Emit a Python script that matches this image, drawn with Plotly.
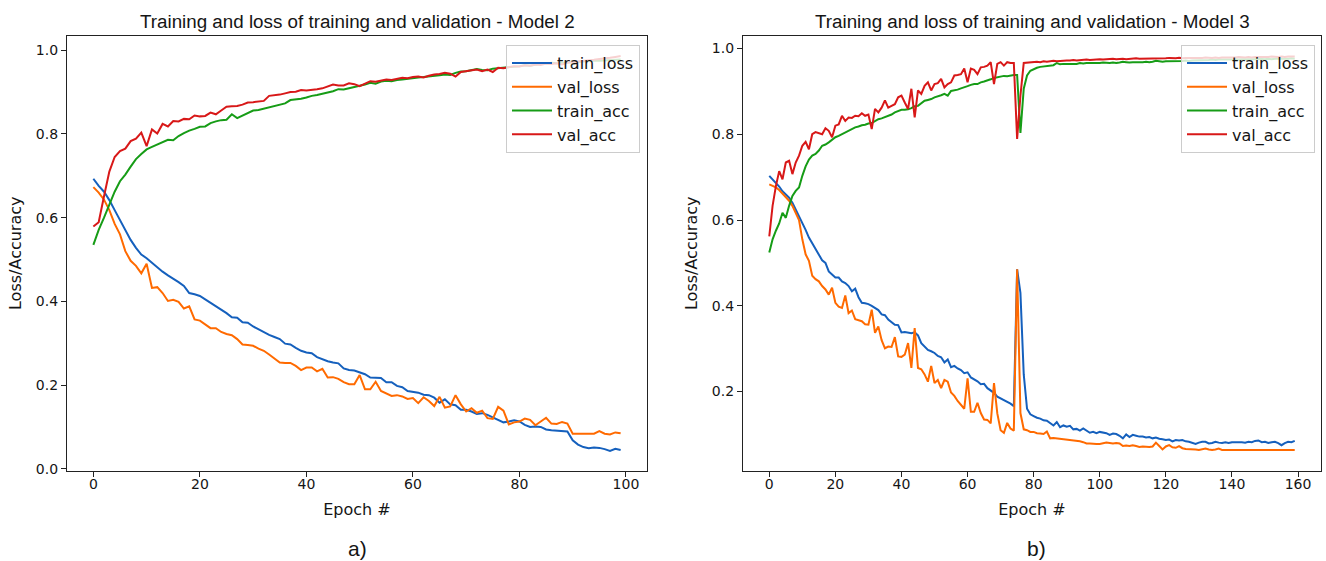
import plotly.graph_objects as go

# ---------------- data : Model 2 (100 epochs) ----------------
epochs_a = list(range(100))
train_loss_a = [0.693,0.676,0.662,0.642,0.618,0.595,0.570,0.547,0.528,0.512,
                0.503,0.492,0.480,0.471,0.462,0.455,0.446,0.437,0.420,0.417,
                0.413,0.405,0.397,0.387,0.379,0.372,0.362,0.361,0.350,0.349,
                0.340,0.333,0.328,0.320,0.315,0.310,0.299,0.297,0.289,0.282,
                0.278,0.276,0.267,0.262,0.257,0.254,0.252,0.240,0.236,0.235,
                0.230,0.226,0.218,0.218,0.217,0.207,0.207,0.198,0.195,0.186,
                0.184,0.182,0.177,0.176,0.170,0.158,0.166,0.154,0.152,0.141,
                0.141,0.137,0.131,0.133,0.129,0.123,0.116,0.111,0.113,0.116,
                0.113,0.105,0.100,0.101,0.100,0.094,0.092,0.091,0.091,0.089,
                0.068,0.058,0.052,0.049,0.051,0.050,0.047,0.043,0.048,0.045]
val_loss_a = [0.673,0.660,0.643,0.618,0.585,0.560,0.520,0.497,0.485,0.467,
              0.490,0.432,0.434,0.420,0.401,0.404,0.399,0.383,0.388,0.357,
              0.354,0.344,0.336,0.336,0.327,0.322,0.319,0.310,0.297,0.296,
              0.294,0.287,0.282,0.273,0.264,0.254,0.253,0.253,0.246,0.236,
              0.242,0.242,0.233,0.239,0.218,0.219,0.215,0.207,0.202,0.202,
              0.224,0.190,0.190,0.208,0.186,0.179,0.174,0.176,0.173,0.167,
              0.169,0.157,0.171,0.162,0.150,0.172,0.146,0.149,0.176,0.154,
              0.137,0.145,0.134,0.139,0.121,0.119,0.148,0.139,0.106,0.111,
              0.113,0.120,0.117,0.104,0.113,0.122,0.108,0.107,0.112,0.108,
              0.084,0.084,0.085,0.085,0.084,0.090,0.084,0.082,0.087,0.085]
train_acc_a = [0.535,0.571,0.600,0.630,0.662,0.687,0.703,0.722,0.740,0.752,
               0.763,0.769,0.775,0.780,0.786,0.785,0.795,0.802,0.808,0.812,
               0.817,0.818,0.826,0.830,0.833,0.834,0.847,0.838,0.844,0.851,
               0.856,0.857,0.860,0.863,0.866,0.870,0.873,0.881,0.882,0.884,
               0.887,0.891,0.893,0.896,0.898,0.902,0.907,0.906,0.909,0.912,
               0.914,0.918,0.922,0.920,0.925,0.927,0.926,0.929,0.930,0.932,
               0.933,0.935,0.936,0.937,0.939,0.940,0.942,0.941,0.946,0.949,
               0.950,0.952,0.955,0.953,0.952,0.956,0.957,0.958,0.960,0.961,
               0.962,0.964,0.963,0.965,0.967,0.968,0.970,0.969,0.970,0.971,
               0.972,0.972,0.973,0.974,0.975,0.975,0.976,0.977,0.978,0.978]
val_acc_a = [0.579,0.589,0.651,0.710,0.745,0.759,0.765,0.783,0.789,0.803,
             0.771,0.811,0.801,0.824,0.818,0.831,0.830,0.836,0.835,0.844,
             0.842,0.843,0.851,0.847,0.856,0.865,0.866,0.867,0.870,0.875,
             0.876,0.878,0.879,0.891,0.892,0.894,0.897,0.900,0.901,0.905,
             0.904,0.905,0.907,0.909,0.913,0.918,0.916,0.916,0.921,0.919,
             0.914,0.920,0.926,0.925,0.928,0.930,0.929,0.932,0.934,0.933,
             0.936,0.937,0.935,0.939,0.942,0.943,0.946,0.944,0.937,0.948,
             0.950,0.951,0.954,0.950,0.954,0.948,0.958,0.957,0.960,0.962,
             0.961,0.964,0.963,0.966,0.965,0.968,0.967,0.969,0.966,0.970,
             0.972,0.973,0.975,0.976,0.977,0.979,0.980,0.982,0.984,0.986]

# ---------------- data : Model 3 (160 epochs) ----------------
epochs_b = list(range(160))
train_loss_b = [0.703,0.695,0.687,0.678,0.667,0.660,0.652,0.640,0.625,0.610,
                0.594,0.577,0.559,0.545,0.531,0.520,0.506,0.500,0.480,0.473,
                0.466,0.466,0.457,0.453,0.446,0.434,0.440,0.420,0.407,0.406,
                0.404,0.400,0.396,0.390,0.380,0.378,0.368,0.363,0.356,0.355,
                0.338,0.339,0.337,0.336,0.338,0.331,0.313,0.305,0.297,0.294,
                0.290,0.283,0.280,0.268,0.275,0.257,0.260,0.254,0.250,0.243,
                0.245,0.233,0.229,0.224,0.217,0.218,0.208,0.202,0.197,0.188,
                0.184,0.180,0.177,0.172,0.166,0.485,0.430,0.240,0.160,0.147,
                0.143,0.139,0.137,0.133,0.132,0.126,0.121,0.129,0.117,0.121,
                0.118,0.120,0.112,0.113,0.109,0.114,0.108,0.104,0.106,0.103,
                0.106,0.104,0.103,0.099,0.102,0.101,0.097,0.091,0.100,0.094,
                0.099,0.097,0.095,0.095,0.093,0.094,0.091,0.093,0.090,0.089,
                0.087,0.088,0.084,0.087,0.086,0.087,0.084,0.083,0.081,0.078,
                0.081,0.083,0.083,0.079,0.080,0.083,0.081,0.080,0.082,0.080,
                0.082,0.082,0.083,0.082,0.081,0.083,0.082,0.085,0.086,0.082,
                0.083,0.080,0.082,0.083,0.080,0.075,0.080,0.083,0.082,0.085]
val_loss_b = [0.683,0.680,0.676,0.670,0.662,0.655,0.645,0.633,0.618,0.600,
              0.555,0.520,0.505,0.470,0.462,0.457,0.446,0.438,0.426,0.442,
              0.407,0.398,0.395,0.424,0.383,0.389,0.369,0.366,0.364,0.357,
              0.356,0.391,0.337,0.352,0.320,0.301,0.305,0.304,0.327,0.282,
              0.281,0.286,0.313,0.255,0.348,0.255,0.252,0.240,0.223,0.260,
              0.220,0.227,0.208,0.227,0.223,0.198,0.190,0.178,0.170,0.160,
              0.231,0.153,0.153,0.174,0.150,0.135,0.134,0.126,0.220,0.149,
              0.110,0.104,0.127,0.114,0.109,0.485,0.150,0.112,0.110,0.106,
              0.106,0.103,0.102,0.101,0.107,0.091,0.092,0.091,0.091,0.090,
              0.089,0.088,0.087,0.086,0.084,0.082,0.079,0.079,0.078,0.078,
              0.078,0.079,0.081,0.080,0.079,0.080,0.079,0.073,0.074,0.073,
              0.075,0.073,0.071,0.072,0.071,0.071,0.072,0.081,0.073,0.065,
              0.072,0.075,0.070,0.069,0.073,0.068,0.066,0.066,0.065,0.065,
              0.064,0.065,0.067,0.065,0.064,0.065,0.067,0.064,0.064,0.064,
              0.064,0.064,0.064,0.064,0.064,0.064,0.064,0.064,0.064,0.064,
              0.064,0.064,0.064,0.064,0.064,0.064,0.064,0.064,0.064,0.064]
train_acc_b = [0.524,0.555,0.575,0.592,0.617,0.605,0.633,0.656,0.668,0.676,
               0.703,0.725,0.741,0.750,0.754,0.762,0.773,0.776,0.781,0.787,
               0.793,0.796,0.800,0.803,0.808,0.811,0.816,0.818,0.821,0.822,
               0.825,0.826,0.831,0.835,0.837,0.840,0.843,0.846,0.851,0.854,
               0.857,0.857,0.858,0.861,0.865,0.866,0.871,0.878,0.880,0.882,
               0.886,0.888,0.891,0.894,0.890,0.901,0.902,0.904,0.907,0.909,
               0.912,0.915,0.917,0.917,0.921,0.923,0.925,0.928,0.931,0.933,
               0.934,0.936,0.935,0.937,0.938,0.938,0.803,0.906,0.937,0.948,
               0.952,0.955,0.957,0.958,0.960,0.960,0.961,0.966,0.963,0.964,
               0.964,0.965,0.965,0.964,0.966,0.965,0.966,0.966,0.965,0.966,
               0.966,0.967,0.966,0.966,0.967,0.966,0.967,0.969,0.968,0.967,
               0.968,0.968,0.967,0.968,0.969,0.968,0.969,0.971,0.970,0.969,
               0.970,0.970,0.971,0.970,0.971,0.971,0.972,0.971,0.972,0.972,
               0.973,0.972,0.973,0.973,0.974,0.973,0.974,0.974,0.973,0.974,
               0.974,0.975,0.974,0.975,0.975,0.974,0.975,0.975,0.976,0.975,
               0.975,0.976,0.975,0.976,0.976,0.975,0.976,0.976,0.977,0.976]
val_acc_b = [0.562,0.633,0.679,0.714,0.695,0.734,0.738,0.707,0.734,0.750,
             0.773,0.782,0.765,0.800,0.805,0.803,0.800,0.814,0.808,0.793,
             0.820,0.823,0.843,0.831,0.839,0.838,0.843,0.842,0.849,0.843,
             0.846,0.812,0.859,0.851,0.862,0.879,0.862,0.866,0.870,0.886,
             0.890,0.874,0.859,0.906,0.839,0.902,0.894,0.913,0.921,0.902,
             0.917,0.919,0.929,0.909,0.917,0.921,0.937,0.938,0.940,0.953,
             0.921,0.953,0.950,0.940,0.956,0.957,0.960,0.968,0.917,0.964,
             0.968,0.960,0.968,0.966,0.966,0.789,0.890,0.966,0.967,0.968,
             0.968,0.969,0.968,0.970,0.969,0.970,0.971,0.970,0.971,0.972,
             0.972,0.972,0.973,0.972,0.973,0.973,0.974,0.973,0.974,0.975,
             0.975,0.974,0.975,0.975,0.976,0.975,0.976,0.976,0.975,0.976,
             0.976,0.977,0.976,0.976,0.977,0.976,0.977,0.977,0.976,0.977,
             0.977,0.978,0.977,0.977,0.978,0.977,0.978,0.978,0.977,0.978,
             0.978,0.978,0.979,0.978,0.978,0.979,0.978,0.979,0.979,0.978,
             0.979,0.979,0.980,0.979,0.979,0.980,0.979,0.980,0.980,0.979,
             0.980,0.980,0.981,0.980,0.980,0.981,0.980,0.981,0.981,0.981]

series_names = ["train_loss", "val_loss", "train_acc", "val_acc"]
colors = ["#1560bd", "#ff6a00", "#169c16", "#d81818"]
titles = ["Training and loss of training and validation - Model 2",
          "Training and loss of training and validation - Model 3"]
panel_labels = ["a)", "b)"]
x_label = "Epoch #"
y_label = "Loss/Accuracy"

W, H = 1326, 561
fig = go.Figure()

for i, (name, ys) in enumerate(zip(series_names, [train_loss_a, val_loss_a, train_acc_a, val_acc_a])):
    fig.add_trace(go.Scatter(x=epochs_a, y=ys, mode="lines", name=name,
                             line=dict(color=colors[i], width=2),
                             xaxis="x", yaxis="y", legend="legend"))
for i, (name, ys) in enumerate(zip(series_names, [train_loss_b, val_loss_b, train_acc_b, val_acc_b])):
    fig.add_trace(go.Scatter(x=epochs_b, y=ys, mode="lines", name=name,
                             line=dict(color=colors[i], width=2),
                             xaxis="x2", yaxis="y2", legend="legend2"))

txt_color = "#151515"
tick_font = dict(family="DejaVu Sans", size=14, color=txt_color)
label_font = dict(family="DejaVu Sans", size=16, color=txt_color)
axis_common = dict(showline=True, linecolor="#222", linewidth=1.3, mirror=True,
                   ticks="outside", ticklen=5, tickcolor="#222", tickwidth=1.2,
                   showgrid=False, zeroline=False, tickfont=tick_font, automargin=False)


def px_x(p):
    return p / W


def px_y(p):
    return 1 - p / H


legend_common = dict(xanchor="right", yanchor="top", bgcolor="rgba(255,255,255,0.8)",
                     bordercolor="#cccccc", borderwidth=1, itemwidth=40,
                     font=dict(family="DejaVu Sans", size=16, color=txt_color))

fig.update_layout(
    template="none",
    width=W, height=H,
    margin=dict(l=0, r=0, t=0, b=0, autoexpand=False),
    paper_bgcolor="white", plot_bgcolor="white",
    xaxis=dict(domain=[px_x(67), px_x(647)], range=[-4.95, 103.95], dtick=20,
               anchor="y", ticklabelstandoff=-4,
               title=dict(text=x_label, font=label_font, standoff=12),
               **axis_common),
    yaxis=dict(domain=[px_y(470.5), px_y(36)], range=[-0.004, 1.034], dtick=0.2, tickformat=".1f",
               anchor="x", title=dict(text=y_label, font=label_font, standoff=10),
               **axis_common),
    xaxis2=dict(domain=[px_x(743), px_x(1321)], range=[-7.95, 166.95], dtick=20,
                anchor="y2", ticklabelstandoff=-4,
                title=dict(text=x_label, font=label_font, standoff=12),
                **axis_common),
    yaxis2=dict(domain=[px_y(470.5), px_y(36)], range=[0.016, 1.029], dtick=0.2, tickformat=".1f",
                anchor="x2", title=dict(text=y_label, font=label_font, standoff=10),
                **axis_common),
    legend=dict(x=px_x(640), y=px_y(45), **legend_common),
    legend2=dict(x=px_x(1315), y=px_y(45), **legend_common),
    showlegend=True,
)

annotations = []
for cx, txt in zip([357, 1032], titles):
    annotations.append(dict(text=txt, x=px_x(cx), y=px_y(22), xref="paper", yref="paper",
                            xanchor="center", yanchor="middle", showarrow=False,
                            font=dict(family="Liberation Sans", size=18.8, color=txt_color)))
for cx, txt in zip([357, 1036], panel_labels):
    annotations.append(dict(text=txt, x=px_x(cx), y=px_y(548), xref="paper", yref="paper",
                            xanchor="center", yanchor="middle", showarrow=False,
                            font=dict(family="Liberation Sans", size=21, color=txt_color)))
fig.update_layout(annotations=annotations)

fig.write_html("out.html",
               config={"displayModeBar": False},
               post_script="document.body.style.margin='0';document.body.style.padding='0';")
